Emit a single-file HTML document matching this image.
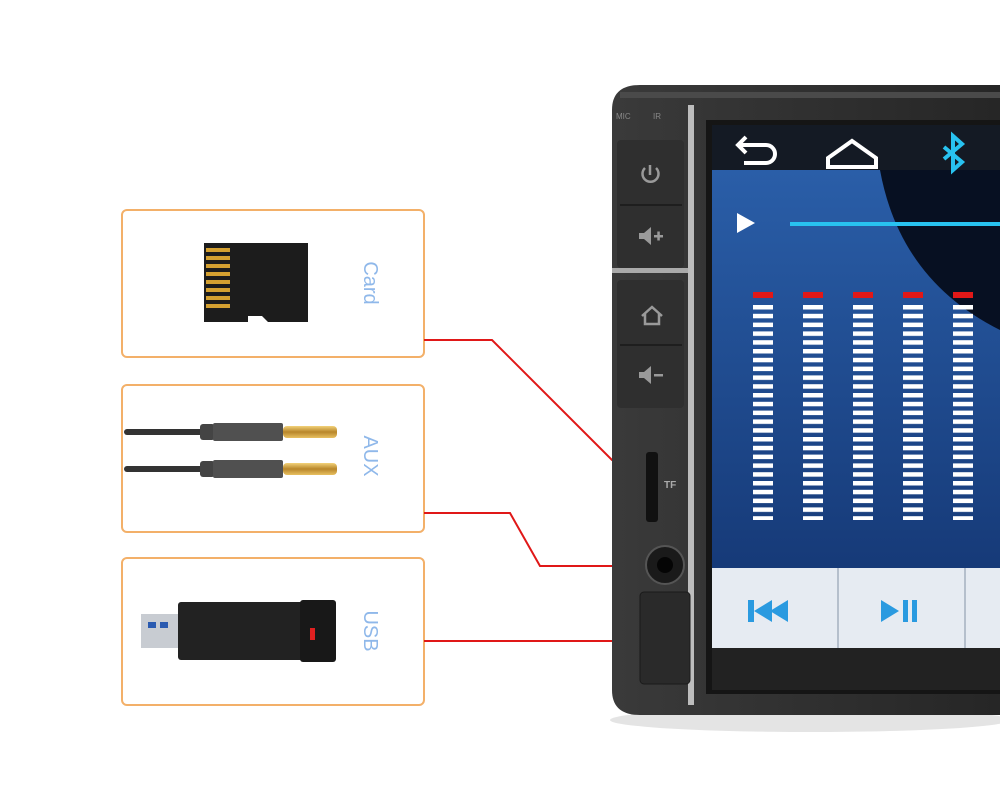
<!DOCTYPE html>
<html><head><meta charset="utf-8"><style>
html,body{margin:0;padding:0;background:#fff;}
svg{display:block}
text{font-family:"Liberation Sans",sans-serif}
</style></head><body>
<svg width="1000" height="791" viewBox="0 0 1000 791">
<defs>
<linearGradient id="scr" x1="0" y1="0" x2="0" y2="1"><stop offset="0" stop-color="#2a5ea8"/><stop offset="1" stop-color="#163a78"/></linearGradient>
<linearGradient id="gold" x1="0" y1="0" x2="0" y2="1"><stop offset="0" stop-color="#f3d27a"/><stop offset="0.5" stop-color="#b8862a"/><stop offset="1" stop-color="#e8c060"/></linearGradient>
<linearGradient id="dev" x1="0" y1="0" x2="1" y2="0"><stop offset="0" stop-color="#3a3a3a"/><stop offset="1" stop-color="#262626"/></linearGradient>
</defs>
<g fill="#fff" stroke="#f3b069" stroke-width="2">
<rect x="122" y="210" width="302" height="147" rx="5"/>
<rect x="122" y="385" width="302" height="147" rx="5"/>
<rect x="122" y="558" width="302" height="147" rx="5"/>
</g>
<g fill="#8fb8ea" font-size="20">
<text transform="translate(364,283) rotate(90)" text-anchor="middle">Card</text>
<text transform="translate(364,456) rotate(90)" text-anchor="middle">AUX</text>
<text transform="translate(364,631) rotate(90)" text-anchor="middle">USB</text>
</g>
<path d="M204,243 H308 V322 H268 L262,316 H248 V322 H204 Z" fill="#1c1c1c"/>
<g fill="#d4a030"><rect x="206" y="248" width="24" height="4"/><rect x="206" y="256" width="24" height="4"/><rect x="206" y="264" width="24" height="4"/><rect x="206" y="272" width="24" height="4"/><rect x="206" y="280" width="24" height="4"/><rect x="206" y="288" width="24" height="4"/><rect x="206" y="296" width="24" height="4"/><rect x="206" y="304" width="24" height="4"/></g>
<g>
<rect x="124" y="429" width="80" height="6" fill="#333" rx="3"/>
<rect x="200" y="424" width="15" height="16" fill="#444" rx="3"/>
<rect x="213" y="423" width="70" height="18" fill="#505050" rx="2"/>
<rect x="283" y="426" width="54" height="12" fill="url(#gold)" rx="4"/>
<rect x="124" y="466" width="80" height="6" fill="#333" rx="3"/>
<rect x="200" y="461" width="15" height="16" fill="#444" rx="3"/>
<rect x="213" y="460" width="70" height="18" fill="#505050" rx="2"/>
<rect x="283" y="463" width="54" height="12" fill="url(#gold)" rx="4"/>
</g>
<rect x="141" y="614" width="40" height="34" fill="#c8ccd2"/>
<rect x="148" y="622" width="8" height="6" fill="#2a5ab0"/><rect x="160" y="622" width="8" height="6" fill="#2a5ab0"/>
<rect x="178" y="602" width="125" height="58" fill="#222" rx="3"/>
<rect x="300" y="600" width="36" height="62" fill="#181818" rx="3"/>
<rect x="310" y="628" width="5" height="12" fill="#e02020"/>
<g stroke="#e01818" stroke-width="2" fill="none">
<polyline points="424,340 492,340 612,460 656,460"/>
<polyline points="424,513 510,513 540,566 663,566"/>
<polyline points="424,641 655,641"/>
</g>
<ellipse cx="810" cy="720" rx="200" ry="12" fill="#e4e4e4"/>
<path d="M640,85 H1000 V715 H640 Q612,715 612,690 V110 Q612,85 640,85 Z" fill="url(#dev)"/>
<rect x="620" y="92" width="380" height="6" fill="#4a4a4a"/>
<text x="616" y="119" font-size="8" fill="#888">MIC</text><text x="653" y="119" font-size="8" fill="#888">IR</text>
<rect x="688" y="105" width="6" height="600" fill="#bdbdbd"/>
<rect x="617" y="140" width="67" height="128" fill="#2f2f2f" rx="4"/>
<line x1="620" y1="205" x2="682" y2="205" stroke="#1e1e1e" stroke-width="2"/>
<rect x="617" y="280" width="67" height="128" fill="#2f2f2f" rx="4"/>
<line x1="620" y1="345" x2="682" y2="345" stroke="#1e1e1e" stroke-width="2"/>
<rect x="612" y="268" width="76" height="5" fill="#aaa"/>
<g fill="none" stroke="#9a9a9a" stroke-width="2.5">
<path d="M645,168 A8,8 0 1 0 656,168"/><line x1="650" y1="165" x2="650" y2="175"/>
<path d="M642,316 L652,307 L662,316 M645,314 V324 H659 V314"/>
</g>
<g fill="#9a9a9a"><path d="M639,233 H644 L651,227 V245 L644,239 H639Z"/><rect x="654" y="235" width="9" height="2.5"/><rect x="657.3" y="231.5" width="2.5" height="9"/>
<path d="M639,372 H644 L651,366 V384 L644,378 H639Z"/><rect x="654" y="374" width="9" height="2.5"/></g>
<rect x="646" y="452" width="12" height="70" fill="#111" rx="3"/>
<text x="664" y="488" font-size="10" fill="#aaa" font-weight="bold">TF</text>
<circle cx="665" cy="565" r="19" fill="#1a1a1a" stroke="#555" stroke-width="2"/><circle cx="665" cy="565" r="8" fill="#050505"/>
<rect x="640" y="592" width="50" height="92" fill="#2a2a2a" rx="4" stroke="#1a1a1a"/>
<rect x="706" y="120" width="294" height="574" fill="#151515"/>
<rect x="712" y="125" width="288" height="45" fill="#141a24"/>
<rect x="712" y="170" width="288" height="398" fill="url(#scr)"/>
<path d="M880,170 Q900,280 1000,330 V170 Z" fill="#071022"/>
<g fill="none" stroke="#fff" stroke-width="4">
<path d="M738,145 H766 A9,9 0 0 1 766,163 H744"/><path d="M746,137 L738,145 L746,153"/>
<path d="M828,167 L828,158 L852,141 L876,158 V167 Z"/>
</g>
<path d="M944,147 L962,162 L953,170 V136 L962,144 L944,159" fill="none" stroke="#28c2f0" stroke-width="4"/>
<path d="M737,213 L755,223 L737,233 Z" fill="#fff"/>
<rect x="790" y="222" width="210" height="4" fill="#28c2f0"/>
<g fill="#e01818"><rect x="753" y="292" width="20" height="6"/><rect x="803" y="292" width="20" height="6"/><rect x="853" y="292" width="20" height="6"/><rect x="903" y="292" width="20" height="6"/><rect x="953" y="292" width="20" height="6"/></g>
<defs><pattern id="bars" x="0" y="305" width="50" height="8.8" patternUnits="userSpaceOnUse"><rect x="3" y="0" width="20" height="4.5" fill="#fff"/></pattern></defs>
<rect x="750" y="305" width="250" height="215" fill="url(#bars)"/>
<rect x="712" y="568" width="288" height="80" fill="#e6ebf2"/>
<rect x="837" y="568" width="2" height="80" fill="#b5bfcc"/><rect x="964" y="568" width="2" height="80" fill="#b5bfcc"/>
<g fill="#2a9ae0"><rect x="748" y="600" width="6" height="22"/><path d="M754,611 L772,600 V622Z M770,611 L788,600 V622Z"/>
<path d="M881,600 L899,611 L881,622Z"/><rect x="903" y="600" width="5" height="22"/><rect x="912" y="600" width="5" height="22"/></g>
<rect x="712" y="648" width="288" height="42" fill="#222"/>
</svg>
</body></html>
